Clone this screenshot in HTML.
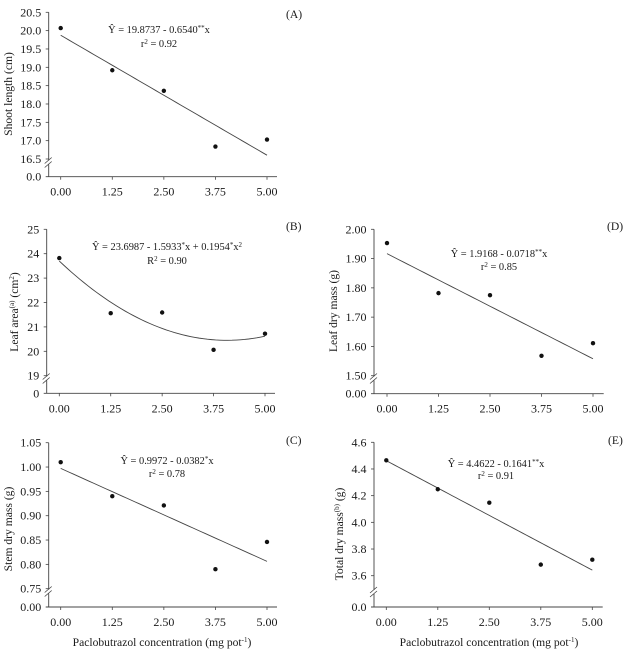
<!DOCTYPE html>
<html lang="en">
<head>
<meta charset="utf-8">
<title>Paclobutrazol response charts</title>
<style>
html,body{margin:0;padding:0;background:#fff;width:623px;height:650px;overflow:hidden}
svg{display:block;font-family:"Liberation Serif",serif;fill:#1a1a1a;filter:blur(0.3px)}
text{font-size:11.6px}
.tick{font-size:12px}
.eq{font-size:10.4px}
.sup{font-size:7px}
</style>
</head>
<body>
<svg id="chart" xmlns="http://www.w3.org/2000/svg" width="623" height="650" viewBox="0 0 623 650">
  <text x="286" y="18">(A)</text>
  <text x="286" y="230">(B)</text>
  <text x="286" y="444">(C)</text>
  <text x="607" y="230">(D)</text>
  <text x="608" y="444">(E)</text>

  <text text-anchor="middle" transform="translate(12,94) rotate(-90)">Shoot length (cm)</text>
  <text text-anchor="middle" transform="translate(18,312) rotate(-90)">Leaf area<tspan class="sup" dy="-4">(a)</tspan><tspan dy="4"> (cm</tspan><tspan class="sup" dy="-4">2</tspan><tspan dy="4">)</tspan></text>
  <text text-anchor="middle" transform="translate(12,529) rotate(-90)">Stem dry mass (g)</text>
  <text text-anchor="middle" transform="translate(337,311) rotate(-90)">Leaf dry mass (g)</text>
  <text text-anchor="middle" transform="translate(343,534) rotate(-90)">Total dry mass<tspan class="sup" dy="-4">(b)</tspan><tspan dy="4"> (g)</tspan></text>

  <text text-anchor="middle" x="162" y="646">Paclobutrazol concentration (mg pot<tspan class="sup" dy="-4">-1</tspan><tspan dy="4">)</tspan></text>
  <text text-anchor="middle" x="489" y="646">Paclobutrazol concentration (mg pot<tspan class="sup" dy="-4">-1</tspan><tspan dy="4">)</tspan></text>

  <text class="eq" text-anchor="middle" x="159" y="33">Ŷ = 19.8737 - 0.6540<tspan class="sup" dy="-3">**</tspan><tspan dy="3">x</tspan></text>
  <text class="eq" text-anchor="middle" x="159" y="47">r<tspan class="sup" dy="-3">2</tspan><tspan dy="3"> = 0.92</tspan></text>
  <text class="eq" text-anchor="middle" x="167" y="250">Ŷ = 23.6987 - 1.5933<tspan class="sup" dy="-3">*</tspan><tspan dy="3">x + 0.1954</tspan><tspan class="sup" dy="-3">*</tspan><tspan dy="3">x</tspan><tspan class="sup" dy="-3">2</tspan></text>
  <text class="eq" text-anchor="middle" x="167" y="264">R<tspan class="sup" dy="-3">2</tspan><tspan dy="3"> = 0.90</tspan></text>
  <text class="eq" text-anchor="middle" x="167" y="464">Ŷ = 0.9972 - 0.0382<tspan class="sup" dy="-3">*</tspan><tspan dy="3">x</tspan></text>
  <text class="eq" text-anchor="middle" x="167" y="477">r<tspan class="sup" dy="-3">2</tspan><tspan dy="3"> = 0.78</tspan></text>
  <text class="eq" text-anchor="middle" x="499" y="257">Ŷ = 1.9168 - 0.0718<tspan class="sup" dy="-3">**</tspan><tspan dy="3">x</tspan></text>
  <text class="eq" text-anchor="middle" x="499" y="270">r<tspan class="sup" dy="-3">2</tspan><tspan dy="3"> = 0.85</tspan></text>
  <text class="eq" text-anchor="middle" x="496" y="467">Ŷ = 4.4622 - 0.1641<tspan class="sup" dy="-3">**</tspan><tspan dy="3">x</tspan></text>
  <text class="eq" text-anchor="middle" x="496" y="479">r<tspan class="sup" dy="-3">2</tspan><tspan dy="3"> = 0.91</tspan></text>
</svg>
<script>
const concentrations = [0, 1.25, 2.5, 3.75, 5];
const xTickLabels = ['0.00', '1.25', '2.50', '3.75', '5.00'];

const shootLength = [20.07, 18.92, 18.36, 16.84, 17.03];
const leafArea = [23.82, 21.56, 21.59, 20.06, 20.72];
const stemDryMass = [1.01, 0.94, 0.921, 0.79, 0.846];
const leafDryMass = [1.953, 1.782, 1.775, 1.568, 1.611];
const totalDryMass = [4.465, 4.248, 4.147, 3.683, 3.72];

const fitShootLength = [19.8737, -0.6540, 0];
const fitLeafArea = [23.6987, -1.5933, 0.1954];
const fitStemDryMass = [0.9972, -0.0382, 0];
const fitLeafDryMass = [1.9168, -0.0718, 0];
const fitTotalDryMass = [4.4622, -0.1641, 0];

const yTicksShoot = ['20.5', '20.0', '19.5', '19.0', '18.5', '18.0', '17.5', '17.0', '16.5'];
const yTicksArea = ['25', '24', '23', '22', '21', '20', '19'];
const yTicksStem = ['1.05', '1.00', '0.95', '0.90', '0.85', '0.80', '0.75'];
const yTicksLeaf = ['2.00', '1.90', '1.80', '1.70', '1.60', '1.50'];
const yTicksTotal = ['4.6', '4.4', '4.2', '4.0', '3.8', '3.6'];

const zeroLabelShoot = '0.0';
const zeroLabelArea = '0';
const zeroLabelStem = '0.00';
const zeroLabelLeaf = '0.00';
const zeroLabelTotal = '0.0';

const SVG_NS = 'http://www.w3.org/2000/svg';
const svg = document.getElementById('chart');

function make(tag, attrs, parent) {
  const el = document.createElementNS(SVG_NS, tag);
  Object.keys(attrs).forEach(function (k) { el.setAttribute(k, attrs[k]); });
  parent.appendChild(el);
  return el;
}

function drawPanel(p) {
  const g = make('g', {}, svg);
  
  

  const hi = parseFloat(p.ticks[0]);
  const lo = parseFloat(p.ticks[p.ticks.length - 1]);
  const xScale = function (v) { return p.x0 + (v / 5) * (p.x5 - p.x0); };
  const yScale = function (v) { return p.yHi + ((hi - v) / (hi - lo)) * (p.yLo - p.yHi); };
  const stroke = '#444';

  const yAxis = make('path', {
    d: 'M' + p.axisX + ' ' + p.yHi + 'V' + p.breakTop + 'M' + p.axisX + ' ' + (p.breakTop + 4) + 'V' + p.base,
    stroke: stroke, 'stroke-width': 0.9, fill: 'none'
  }, g);
  
  

  const xAxis = make('line', {
    x1: p.axisX - 3, x2: p.right, y1: p.base, y2: p.base,
    stroke: stroke, 'stroke-width': 0.9
  }, g);
  
  

  const breakMark = make('path', {
    d: 'M' + (p.axisX - 4) + ' ' + (p.breakTop + 3) + 'L' + (p.axisX + 3) + ' ' + (p.breakTop - 3) +
       'M' + (p.axisX - 4) + ' ' + (p.breakTop + 7) + 'L' + (p.axisX + 3) + ' ' + (p.breakTop + 1),
    stroke: stroke, 'stroke-width': 0.8, fill: 'none'
  }, g);
  
  

  p.ticks.forEach(function (label) {
    const y = yScale(parseFloat(label));
    const tick = make('line', { x1: p.axisX - 3, x2: p.axisX, y1: y, y2: y, stroke: stroke, 'stroke-width': 0.8 }, g);
    
    
    const text = make('text', { x: p.axisX - 7.5, y: y + 4, 'text-anchor': 'end', 'class': 'tick' }, g);
    
    
    text.textContent = label;
  });

  const zero = make('text', { x: p.axisX - 7.5, y: p.base + 4, 'text-anchor': 'end', 'class': 'tick' }, g);
  
  
  zero.textContent = p.zero;

  concentrations.forEach(function (c, i) {
    const x = xScale(c);
    const tick = make('line', { x1: x, x2: x, y1: p.base, y2: p.base + 3, stroke: stroke, 'stroke-width': 0.8 }, g);
    
    
    const text = make('text', { x: x, y: p.base + 19, 'text-anchor': 'middle', 'class': 'tick' }, g);
    
    
    text.textContent = xTickLabels[i];
  });

  const pts = [];
  for (let i = 0; i <= 50; i++) {
    const c = i / 10;
    const v = p.fit[0] + p.fit[1] * c + p.fit[2] * c * c;
    pts.push(xScale(c).toFixed(2) + ',' + yScale(v).toFixed(2));
  }
  const fit = make('polyline', { points: pts.join(' '), fill: 'none', stroke: stroke, 'stroke-width': 0.9 }, g);
  
  

  p.values.forEach(function (v, i) {
    const dot = make('circle', { cx: xScale(concentrations[i]), cy: yScale(v), r: 2.2, fill: '#111' }, g);
    
    
  });
}

drawPanel({ id: 'a', ticks: yTicksShoot, zero: zeroLabelShoot, values: shootLength, fit: fitShootLength,
  axisX: 48.7, right: 277, x0: 60.7, x5: 267, yHi: 12.3, yLo: 159, breakTop: 160.5, base: 176.7 });
drawPanel({ id: 'b', ticks: yTicksArea, zero: zeroLabelArea, values: leafArea, fit: fitLeafArea,
  axisX: 46.7, right: 275, x0: 59.3, x5: 265, yHi: 229.3, yLo: 375.7, breakTop: 376.5, base: 393.3 });
drawPanel({ id: 'c', ticks: yTicksStem, zero: zeroLabelStem, values: stemDryMass, fit: fitStemDryMass,
  axisX: 48.7, right: 277, x0: 60.7, x5: 267, yHi: 442.7, yLo: 588.7, breakTop: 589.5, base: 607 });
drawPanel({ id: 'd', ticks: yTicksLeaf, zero: zeroLabelLeaf, values: leafDryMass, fit: fitLeafDryMass,
  axisX: 374, right: 603.7, x0: 387, x5: 593, yHi: 229.3, yLo: 375.7, breakTop: 376.5, base: 393.7 });
drawPanel({ id: 'e', ticks: yTicksTotal, zero: zeroLabelTotal, values: totalDryMass, fit: fitTotalDryMass,
  axisX: 374, right: 602.7, x0: 386.3, x5: 592.3, yHi: 442.3, yLo: 575.7, breakTop: 590, base: 607 });
</script>
</body>
</html>
